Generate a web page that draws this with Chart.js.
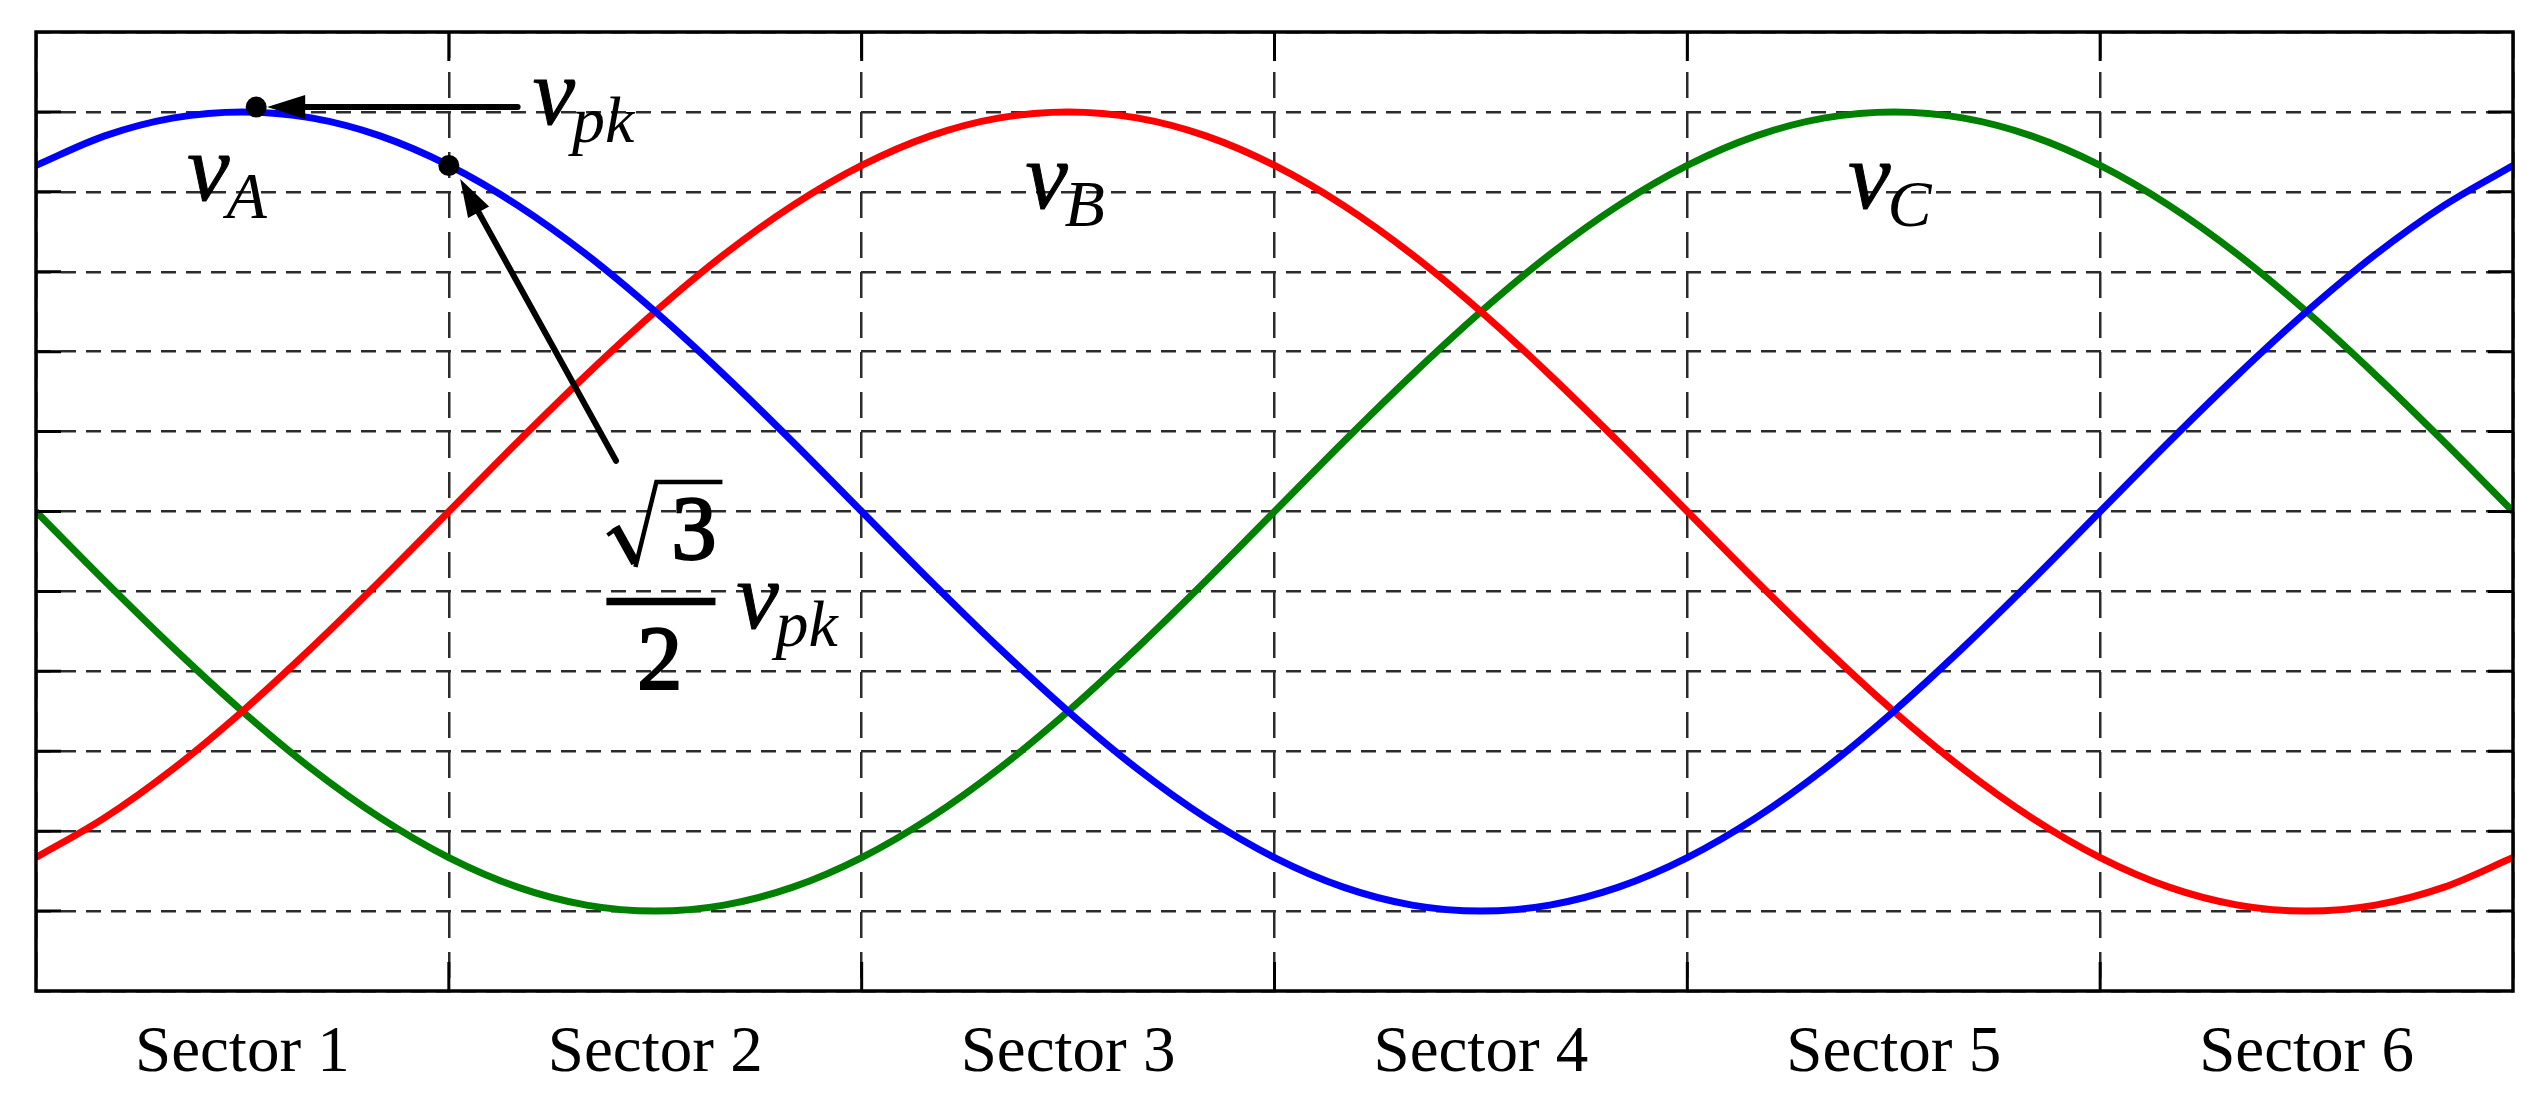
<!DOCTYPE html>
<html>
<head>
<meta charset="utf-8">
<script src="https://cdn.jsdelivr.net/npm/chart.js@4.4.1/dist/chart.umd.min.js"></script>
<style>
  html, body { margin: 0; padding: 0; background: #fff; }
  canvas { display: block; }
</style>
</head>
<body>
<canvas id="sectorChart" width="2548" height="1112"></canvas>
<script>
// angle in degrees, one full period
const angles = [0, 10, 20, 30, 40, 50, 60, 70, 80, 90, 100, 110, 120, 130, 140, 150, 160, 170, 180,
    190, 200, 210, 220, 230, 240, 250, 260, 270, 280, 290, 300, 310, 320, 330, 340, 350, 360];

// phase voltages, per unit of v_pk
const vA = [0.866, 0.940, 0.985, 1.000, 0.985, 0.940, 0.866, 0.766, 0.643, 0.500, 0.342, 0.174, 0.000,
    -0.174, -0.342, -0.500, -0.643, -0.766, -0.866, -0.940, -0.985, -1.000, -0.985, -0.940, -0.866,
    -0.766, -0.643, -0.500, -0.342, -0.174, 0.000, 0.174, 0.342, 0.500, 0.643, 0.766, 0.866];
const vB = [-0.866, -0.766, -0.643, -0.500, -0.342, -0.174, 0.000, 0.174, 0.342, 0.500, 0.643, 0.766, 0.866,
    0.940, 0.985, 1.000, 0.985, 0.940, 0.866, 0.766, 0.643, 0.500, 0.342, 0.174, 0.000,
    -0.174, -0.342, -0.500, -0.643, -0.766, -0.866, -0.940, -0.985, -1.000, -0.985, -0.940, -0.866];
const vC = [0.000, -0.174, -0.342, -0.500, -0.643, -0.766, -0.866, -0.940, -0.985, -1.000, -0.985, -0.940, -0.866,
    -0.766, -0.643, -0.500, -0.342, -0.174, 0.000, 0.174, 0.342, 0.500, 0.643, 0.766, 0.866,
    0.940, 0.985, 1.000, 0.985, 0.940, 0.866, 0.766, 0.643, 0.500, 0.342, 0.174, 0.000];

const sectorLabels = ['Sector 1', 'Sector 2', 'Sector 3', 'Sector 4', 'Sector 5', 'Sector 6'];
const sectorEdges = [60, 120, 180, 240, 300];
const yGridValues = [-1.0, -0.8, -0.6, -0.4, -0.2, 0, 0.2, 0.4, 0.6, 0.8, 1.0];

const toPoints = vals => angles.map((a, i) => ({ x: a, y: vals[i] }));

const mathFont = size => 'italic ' + size + 'px "Liberation Serif"';

function drawArrow(ctx, x1, y1, x2, y2) {
    const ang = Math.atan2(y2 - y1, x2 - x1);
    const headLen = 38, headW = 12;
    const bx = x2 - headLen * Math.cos(ang), by = y2 - headLen * Math.sin(ang);
    ctx.beginPath();
    ctx.moveTo(x1, y1);
    ctx.lineTo(bx + 2 * Math.cos(ang), by + 2 * Math.sin(ang));
    ctx.lineWidth = 6;
    ctx.lineCap = 'round';
    ctx.stroke();
    ctx.beginPath();
    ctx.moveTo(x2, y2);
    ctx.lineTo(bx + headW * Math.sin(ang), by - headW * Math.cos(ang));
    ctx.lineTo(bx - headW * Math.sin(ang), by + headW * Math.cos(ang));
    ctx.closePath();
    ctx.fill();
}

// v with a subscript, x = left edge of the v, y = baseline
function mathVar(ctx, x, y, sub) {
    ctx.font = mathFont(95);
    ctx.lineWidth = 1;
    ctx.fillText('v', x, y);
    ctx.strokeText('v', x, y);
    const w = ctx.measureText('v').width;
    ctx.font = mathFont(66);
    ctx.fillText(sub, x + w - 3, y + 18);
}

const frameAndNotes = {
    id: 'frameAndNotes',
    afterDatasetsDraw(chart) {
        const { ctx, chartArea: a, scales: { x, y } } = chart;
        const X = v => x.getPixelForValue(v), Y = v => y.getPixelForValue(v);
        ctx.save();
        ctx.strokeStyle = '#000';
        ctx.fillStyle = '#000';

        // inner tick marks
        ctx.lineWidth = 3;
        ctx.beginPath();
        yGridValues.forEach(v => {
            ctx.moveTo(a.left, Y(v)); ctx.lineTo(a.left + 25, Y(v));
            ctx.moveTo(a.right, Y(v)); ctx.lineTo(a.right - 25, Y(v));
        });
        sectorEdges.forEach(v => {
            ctx.moveTo(X(v), a.top); ctx.lineTo(X(v), a.top + 29);
            ctx.moveTo(X(v), a.bottom); ctx.lineTo(X(v), a.bottom - 29);
        });
        ctx.stroke();

        // box
        ctx.lineWidth = 3.5;
        ctx.strokeRect(a.left, a.top, a.right - a.left, a.bottom - a.top);

        // phase names
        ctx.textBaseline = 'alphabetic';
        ctx.textAlign = 'left';
        mathVar(ctx, X(22.0), Y(0.779), 'A');
        mathVar(ctx, X(143.8), Y(0.759), 'B');
        mathVar(ctx, X(263.4), Y(0.759), 'C');

        // peak marker
        ctx.beginPath();
        ctx.arc(X(32), Y(1.012), 10.5, 0, Math.PI * 2);
        ctx.fill();
        drawArrow(ctx, X(70), Y(1.012), X(32) + 11, Y(1.012));
        mathVar(ctx, X(72.2), Y(0.971), 'pk');

        // sqrt(3)/2 marker
        ctx.beginPath();
        ctx.arc(X(60), Y(0.866), 10.5, 0, Math.PI * 2);
        ctx.fill();
        drawArrow(ctx, X(84.3), Y(0.127), X(61.65), Y(0.832));

        // radical and 3
        const tx = X(92.35), ty = Y(-0.119);
        ctx.font = '90px "Liberation Serif"';
        ctx.lineWidth = 2.4;
        ctx.fillText('3', tx, ty);
        ctx.strokeText('3', tx, ty);
        const tw = ctx.measureText('3').width;
        ctx.lineJoin = 'miter';
        ctx.lineCap = 'butt';
        ctx.lineWidth = 4;
        ctx.beginPath();
        ctx.moveTo(tx - 64, ty - 24);
        ctx.lineTo(tx - 54, ty - 31);
        ctx.stroke();
        ctx.lineWidth = 9;
        ctx.beginPath();
        ctx.moveTo(tx - 56, ty - 32);
        ctx.lineTo(tx - 36, ty + 4);
        ctx.stroke();
        ctx.lineWidth = 4.5;
        ctx.beginPath();
        ctx.moveTo(tx - 36, ty + 8);
        ctx.lineTo(tx - 15, ty - 77);
        ctx.lineTo(tx + tw + 6, ty - 77);
        ctx.stroke();

        // fraction bar and 2
        ctx.lineWidth = 7.5;
        ctx.beginPath();
        ctx.moveTo(X(82.9), Y(-0.225));
        ctx.lineTo(X(98.75), Y(-0.225));
        ctx.stroke();
        ctx.textAlign = 'center';
        ctx.lineWidth = 2.4;
        ctx.fillText('2', X(90.65), Y(-0.443));
        ctx.strokeText('2', X(90.65), Y(-0.443));
        ctx.textAlign = 'left';
        mathVar(ctx, X(101.8), Y(-0.292), 'pk');

        ctx.restore();
    }
};

const ctx = document.getElementById('sectorChart').getContext('2d');
const sectorChart = new Chart(ctx, {
    type: 'line',
    data: {
        datasets: [
            { label: 'vA', data: toPoints(vA), borderColor: '#0000ff' },
            { label: 'vB', data: toPoints(vB), borderColor: '#ff0000' },
            { label: 'vC', data: toPoints(vC), borderColor: '#008000' }
        ]
    },
    options: {
        responsive: false,
        animation: false,
        devicePixelRatio: 1,
        datasets: {
            line: { borderWidth: 7, pointRadius: 0, cubicInterpolationMode: 'monotone', fill: false }
        },
        layout: { padding: { left: 36, right: 35, top: 32, bottom: 0 } },
        plugins: { legend: { display: false }, tooltip: { enabled: false } },
        scales: {
            x: {
                type: 'linear',
                min: 0,
                max: 360,
                afterFit: s => { s.height = 121; },
                grid: {
                    color: c => (c.tick && c.tick.value % 60 === 0) ? '#2b2b2b' : 'rgba(0,0,0,0)',
                    lineWidth: 2.5,
                    drawTicks: false
                },
                border: { display: false, dash: [26, 14] },
                ticks: {
                    stepSize: 30,
                    autoSkip: false,
                    maxRotation: 0,
                    padding: 24,
                    color: '#000',
                    font: { family: '"Liberation Serif"', size: 65 },
                    callback: v => (v % 60 === 30) ? sectorLabels[(v - 30) / 60] : ''
                }
            },
            y: {
                min: -1.2,
                max: 1.2,
                grid: { color: '#2b2b2b', lineWidth: 2.5, drawTicks: false },
                border: { display: false, dash: [15, 10] },
                ticks: { stepSize: 0.2, display: false }
            }
        }
    },
    plugins: [frameAndNotes]
});
</script>
</body>
</html>
